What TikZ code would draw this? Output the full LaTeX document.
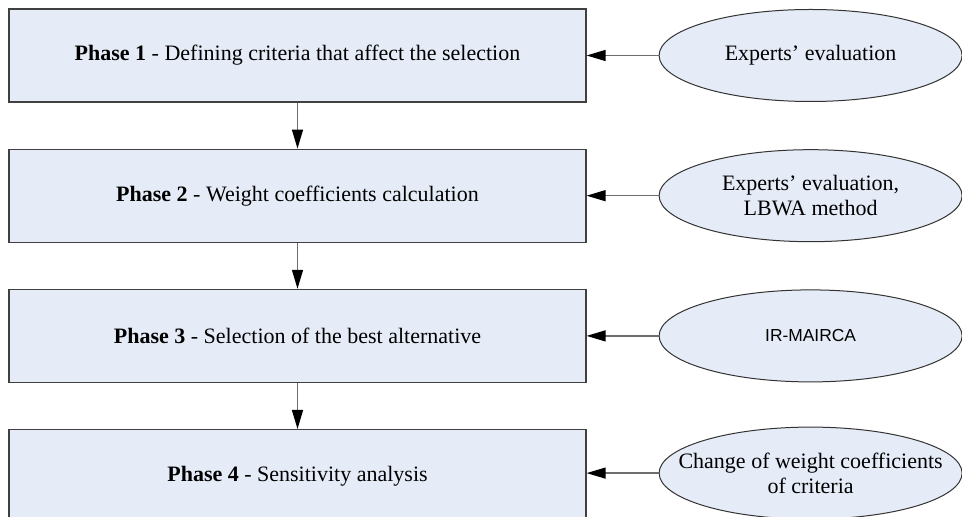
\documentclass[tikz,border=0pt]{standalone}
\usepackage{fontspec}
\setmainfont{Liberation Serif}
\newfontfamily\arialfont{Liberation Sans}
\usepackage{tikz}
\usetikzlibrary{chains, positioning, shapes.geometric, arrows.meta}
\definecolor{phasefill}{RGB}{230,236,247}
\definecolor{linegrey}{RGB}{110,110,110}
\tikzset{
  % the arrows between the shapes
  feed/.style={-{Triangle[length=9.5pt,width=5.5pt,color=black]}, draw=linegrey, line width=0.65pt},
  % the phase boxes form one chain
  phase/.style={%
    draw=black!75,
    line width=0.6pt,
    fill=phasefill,
    minimum width=288.5pt,
    minimum height=46.5pt,
    inner sep=0pt,
    on chain,           % part of the chain
    join,               % arrow from the previous box
    font=\fontsize{11}{13}\selectfont
  },
  % the inputs on the right
  method/.style={ellipse, draw=black!80, line width=0.5pt, fill=phasefill,
    minimum width=151.5pt, minimum height=46pt, inner sep=0pt},
  methodtext/.style={align=center, font=\fontsize{11}{12.5}\selectfont}
}
\begin{document}
\begin{tikzpicture}[
  x=0.5pt, y=-0.5pt,
  start chain=going below,    % every box under the previous one
  node distance=23pt,         % gap between the boxes
  every join/.style={feed}
  ]
  \clip (0,0) rectangle (962,517);

  % --- phases ---
  \node [phase] (p1) at (297.5,55.5) {\textbf{Phase 1} - Defining criteria that affect the selection};
  \node [phase] (p2) {\textbf{Phase 2} - Weight coefficients calculation};
  \node [phase] (p3) {\textbf{Phase 3} - Selection of the best alternative};
  \node [phase] (p4) {\textbf{Phase 4} - Sensitivity analysis};

  % --- methods ---
  \node [method, right=36pt of p1, label={[methodtext]center:Experts’ evaluation}] (m1) {};
  \node [method, right=36pt of p2, label={[methodtext]center:Experts’ evaluation,\\LBWA method}] (m2) {};
  \node [method, right=36pt of p3, label={[methodtext, font=\arialfont\fontsize{8.7}{10}\selectfont]center:IR-MAIRCA}] (m3) {};
  \node [method, right=36pt of p4, yshift=1.5pt, label={[methodtext]center:Change of weight coefficients\\of criteria}] (m4) {};

  \foreach \i in {1,...,4}
    \draw [feed] (m\i.west) -- (m\i.west -| p\i.east);

\end{tikzpicture}
\end{document}
